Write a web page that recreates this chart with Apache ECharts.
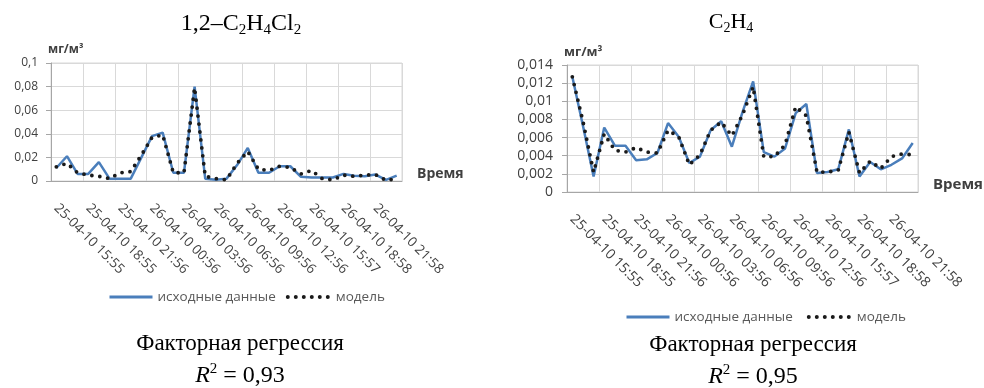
<!DOCTYPE html>
<html>
<head>
<meta charset="utf-8">
<script src="https://cdn.jsdelivr.net/npm/echarts@6/dist/echarts.min.js"></script>
<style>
  html, body { margin: 0; padding: 0; background: #fff; }
  #chart { width: 984px; height: 388px; }
</style>
</head>
<body>
<div id="chart"></div>
<script>
// hourly measurement times (only every 3rd one is labelled)
const times = [
  "25-04-10 15:55", "25-04-10 16:55", "25-04-10 17:55",
  "25-04-10 18:55", "25-04-10 19:55", "25-04-10 20:55",
  "25-04-10 21:56", "25-04-10 22:56", "25-04-10 23:56",
  "26-04-10 00:56", "26-04-10 01:56", "26-04-10 02:56",
  "26-04-10 03:56", "26-04-10 04:56", "26-04-10 05:56",
  "26-04-10 06:56", "26-04-10 07:56", "26-04-10 08:56",
  "26-04-10 09:56", "26-04-10 10:56", "26-04-10 11:56",
  "26-04-10 12:56", "26-04-10 13:56", "26-04-10 14:56",
  "26-04-10 15:57", "26-04-10 16:57", "26-04-10 17:57",
  "26-04-10 18:58", "26-04-10 19:58", "26-04-10 20:58",
  "26-04-10 21:58", "26-04-10 22:58", "26-04-10 23:58"
]

// 1,2-C2H4Cl2
const dcOrig = [
  0.011, 0.021, 0.006, 0.006, 0.016, 0.002, 0.002, 0.002, 0.020, 0.038, 0.041,
  0.007, 0.007, 0.080, 0.002, 0.001, 0.002, 0.0135, 0.028, 0.007, 0.007, 0.0125,
  0.0125, 0.0035, 0.003, 0.003, 0.003, 0.006, 0.0045, 0.004, 0.0055, 0.001, 0.0045
]
const dcModel = [
  0.012, 0.015, 0.007, 0.005, 0.004, 0.002, 0.007, 0.008, 0.022, 0.037, 0.039,
  0.007, 0.007, 0.079, 0.004, 0.002, 0.001, 0.015, 0.025, 0.010, 0.009, 0.0125,
  0.0115, 0.006, 0.009, 0.002, 0.001, 0.005, 0.004, 0.005, 0.0055, 0.0005, 0.002
]
const dcTicks = [0, 0.02, 0.04, 0.06, 0.08, 0.1]

// C2H4
const ethOrig = [
  0.0127, 0.0073, 0.0017, 0.0071, 0.0051, 0.0051, 0.0035, 0.0036, 0.0043, 0.0076, 0.0061,
  0.0032, 0.0039, 0.0068, 0.0078, 0.0050, 0.0088, 0.0122, 0.0044, 0.0039, 0.0048, 0.0087,
  0.0097, 0.0021, 0.0022, 0.0025, 0.0069, 0.0017, 0.0033, 0.0025, 0.0030, 0.0037, 0.0054
]
const ethModel = [
  0.0127, 0.0078, 0.0022, 0.0064, 0.0046, 0.0044, 0.0049, 0.0044, 0.0043, 0.0068, 0.0061,
  0.0030, 0.0041, 0.0068, 0.0077, 0.0062, 0.0085, 0.0116, 0.0039, 0.0039, 0.0052, 0.0094,
  0.0084, 0.0022, 0.0022, 0.0024, 0.0066, 0.0021, 0.0034, 0.0026, 0.0039, 0.0042, 0.0041
]
const ethTicks = [0, 0.002, 0.004, 0.006, 0.008, 0.01, 0.012, 0.014]

const SANS = "Open Sans"
const SERIF = "Liberation Serif"
const BLUE = "#4A7EBB"
const GRID = "#D9D9D9"
const DOTS = { color: "#1a1a1a", width: 3.8, type: [0, 8], cap: "round" }

const comma = v => String(+v.toFixed(4)).replace(".", ",")

function xAxis(idx, fontSize, nameSize) {
  return {
    type: "category",
    gridIndex: idx,
    data: times,
    boundaryGap: true,
    name: "Время",
    nameLocation: "end",
    nameGap: 15,
    nameTextStyle: {
      fontFamily: SANS, fontWeight: "bold", fontSize: nameSize, color: "#404040",
      verticalAlign: "bottom"
    },
    axisLine: { lineStyle: { color: "#A6A6A6" } },
    axisTick: { interval: 2, length: 5, lineStyle: { color: "#A6A6A6" } },
    axisLabel: {
      interval: 2, rotate: -45, margin: 25,
      fontFamily: SANS, fontSize: fontSize, color: "#404040"
    },
    splitLine: { show: true, interval: 2, lineStyle: { color: GRID } }
  }
}

function yAxis(idx, ticks, fontSize, margin) {
  return {
    type: "value",
    gridIndex: idx,
    min: ticks[0],
    max: ticks[ticks.length - 1],
    interval: ticks[1] - ticks[0],
    axisLine: { show: true, lineStyle: { color: "#A6A6A6" } },
    axisTick: { show: true, length: 5, lineStyle: { color: "#A6A6A6" } },
    axisLabel: {
      formatter: comma, margin: margin,
      fontFamily: SANS, fontSize: fontSize, color: "#404040"
    },
    splitLine: { lineStyle: { color: GRID } }
  }
}

function origLine(data, idx) {
  return {
    name: "исходные данные", type: "line", data: data,
    xAxisIndex: idx, yAxisIndex: idx,
    symbol: "none", z: 2,
    lineStyle: { color: BLUE, width: 2.5 }, itemStyle: { color: BLUE }
  }
}

function modelLine(data, idx) {
  return {
    name: "модель", type: "line", data: data,
    xAxisIndex: idx, yAxisIndex: idx,
    symbol: "none", z: 3,
    lineStyle: DOTS,
    itemStyle: { color: "#1a1a1a" }
  }
}

function label(x, y, text, font, rich) {
  return {
    type: "text", x: x, y: y, silent: true,
    style: {
      text: text, font: font, fill: "#000",
      align: "center", verticalAlign: "middle",
      textAlign: "center", textVerticalAlign: "middle",
      rich: rich
    }
  }
}

function formula(size) {
  return {
    a: { fontFamily: SERIF, fontSize: size, lineHeight: size + 4, color: "#000" },
    s: { fontFamily: SERIF, fontSize: Math.round(size * 0.64), lineHeight: 12, verticalAlign: "bottom", color: "#000" }
  }
}
const rsq = {
  r: { fontFamily: SERIF, fontSize: 24, fontStyle: "italic", lineHeight: 28, color: "#000" },
  p: { fontFamily: SERIF, fontSize: 15, lineHeight: 12, verticalAlign: "top", color: "#000" },
  a: { fontFamily: SERIF, fontSize: 24, lineHeight: 28, color: "#000" }
}

function legend(left, top, fontSize, gap) {
  return {
    left: left, top: top, itemWidth: 43, itemHeight: 12, itemGap: gap,
    itemStyle: { color: "transparent", borderWidth: 0 },
    data: [
      { name: "исходные данные", lineStyle: { width: 3 } },
      { name: "модель", lineStyle: { width: 4, type: [0, 8], cap: "round", color: "#1a1a1a" } }
    ],
    textStyle: { fontFamily: SANS, fontSize: fontSize, color: "#595959" }
  }
}

const chart = echarts.init(document.getElementById("chart"))
chart.setOption({
  animation: false,
  backgroundColor: "#fff",
  grid: [
    { left: 51, right: 582, top: 63, bottom: 207, show: true, borderColor: GRID, borderWidth: 1 },
    { left: 567, right: 64, top: 65, bottom: 196, show: true, borderColor: GRID, borderWidth: 1 }
  ],
  xAxis: [xAxis(0, 13.5, 14), xAxis(1, 14, 15)],
  yAxis: [yAxis(0, dcTicks, 12, 13), yAxis(1, ethTicks, 14, 14)],
  legend: [legend(103, 285, 13.5, 10), legend(620, 305, 13.5, 14)],
  series: [
    origLine(dcOrig, 0), modelLine(dcModel, 0),
    origLine(ethOrig, 1), modelLine(ethModel, 1)
  ],
  graphic: [
    label(241, 24, "{a|1,2–C}{s|2}{a|H}{s|4}{a|Cl}{s|2}", "24px " + SERIF, formula(24)),
    label(731, 22, "{a|C}{s|2}{a|H}{s|4}", "22px " + SERIF, formula(22)),
    {
      type: "text", x: 48, y: 50, silent: true,
      style: { text: "мг/м³", font: "bold 12px " + SANS, fill: "#404040", verticalAlign: "middle", textVerticalAlign: "middle" }
    },
    {
      type: "text", x: 564, y: 52, silent: true,
      style: { text: "мг/м³", font: "bold 13px " + SANS, fill: "#404040", verticalAlign: "middle", textVerticalAlign: "middle" }
    },
    label(240, 344, "Факторная регрессия", "23px " + SERIF),
    label(240, 376, "{r|R}{p|2}{a| = 0,93}", "24px " + SERIF, rsq),
    label(753, 345, "Факторная регрессия", "23px " + SERIF),
    label(753, 377, "{r|R}{p|2}{a| = 0,95}", "24px " + SERIF, rsq)
  ]
})
</script>
</body>
</html>
